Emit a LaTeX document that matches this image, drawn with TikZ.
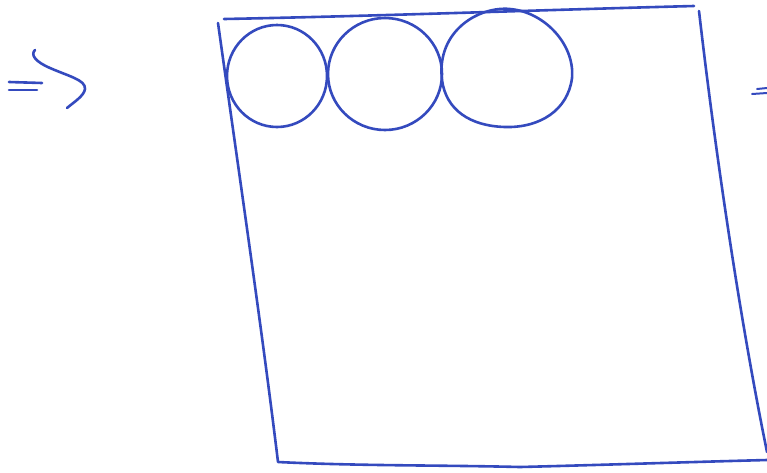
\documentclass[tikz,border=0pt]{standalone}
\begin{document}
\begin{tikzpicture}[x=1pt,y=-1pt,
  pen/.style={draw=penblue,line width=2.6pt,line cap=round,line join=round}]
\definecolor{penblue}{RGB}{52,74,190}
\useasboundingbox (0,0) rectangle (767,472);
% left "=>" sign
\draw[pen] (9,82) -- (42,83);
\draw[pen] (9,90) -- (37,90);
\draw[pen] (35,50) .. controls (30,55) and (36,62) .. (50,68)
  .. controls (68,76) and (86,80) .. (85,89) .. controls (84,96) and (74,102) .. (67,108);
% right partial "="
\draw[pen,line width=2pt] (757,89) -- (767,88);
\draw[pen,line width=2pt] (752,94) -- (767,93);
% box
\draw[pen] (224,19) .. controls (380,16) and (540,10) .. (694,6);
\draw[pen] (218,23) .. controls (240,180) and (262,330) .. (278,462)
  .. controls (360,466) and (440,465) .. (520,467)
  .. controls (600,465) and (690,462) .. (767,460);
\draw[pen] (699,11) .. controls (715,150) and (740,320) .. (767,452);
% circles
\draw[pen] (277,76) ellipse [x radius=50, y radius=51];
\draw[pen] (385,74) ellipse [x radius=57, y radius=56];
\draw[pen] (442,80) .. controls (436,30) and (480,6) .. (510,9)
  .. controls (545,12) and (575,45) .. (572,78)
  .. controls (568,110) and (540,128) .. (505,127)
  .. controls (470,126) and (446,110) .. (442,80) -- cycle;
\end{tikzpicture}
\end{document}
